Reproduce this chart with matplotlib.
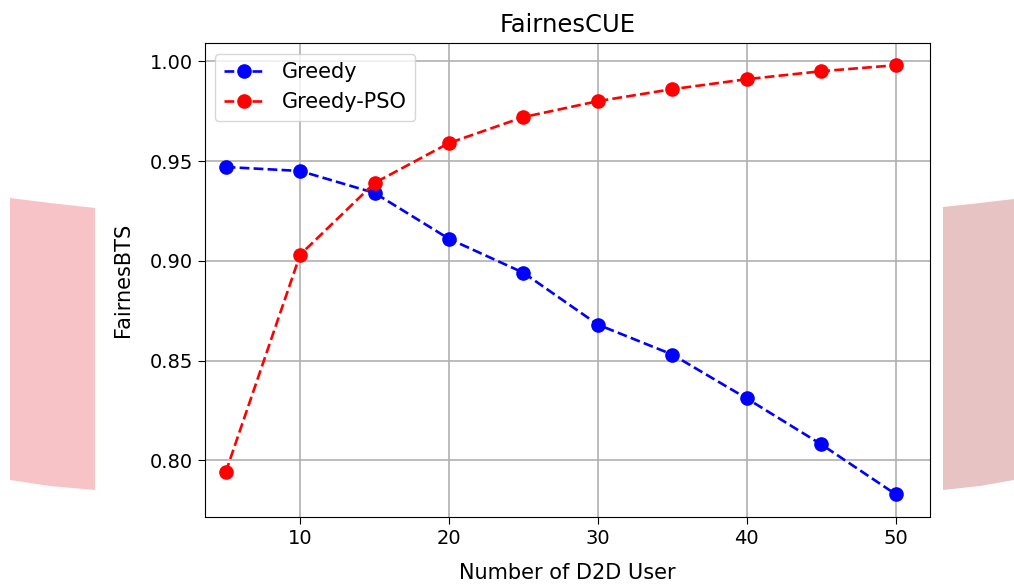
import matplotlib
matplotlib.use("Agg")
import matplotlib.pyplot as plt
from matplotlib.patches import Polygon

users = [5, 10, 15, 20, 25, 30, 35, 40, 45, 50]
greedy = [0.947, 0.945, 0.934, 0.911, 0.894, 0.868, 0.853, 0.831, 0.808, 0.783]
greedy_pso = [0.794, 0.903, 0.939, 0.959, 0.972, 0.980, 0.986, 0.991, 0.995, 0.998]

x_ticks = [10, 20, 30, 40, 50]
y_ticks = [0.80, 0.85, 0.90, 0.95, 1.00]

plt.rcParams["font.size"] = 14
plt.rcParams["xtick.major.size"] = 5
plt.rcParams["ytick.major.size"] = 5

fig = plt.figure(figsize=(10.14, 5.85), dpi=100)

# pink slide decorations on either side (pixel coords, top origin)
bands = [
    ([(10, 198), (50, 203), (95, 208), (95, 490), (50, 486), (10, 480)], "#f7c3c6"),
    ([(943, 207), (980, 203), (1014, 199), (1014, 480), (980, 486), (943, 490)], "#e8c3c4"),
]
for pts, col in bands:
    xy = [(px / 1014, 1 - py / 585) for px, py in pts]
    fig.patches.append(Polygon(xy, closed=True, transform=fig.transFigure,
                               facecolor=col, edgecolor="none"))

ax = fig.add_axes([0.202, 0.116, 0.715, 0.810])
ax.plot(users, greedy, "o--", color="blue", markersize=9.5, linewidth=1.9, label="Greedy")
ax.plot(users, greedy_pso, "o--", color="red", markersize=9.5, linewidth=1.9, label="Greedy-PSO")

ax.set_xlim(3.6, 52.3)
ax.set_ylim(0.7715, 1.009)
ax.set_xticks(x_ticks)
ax.set_yticks(y_ticks)
ax.set_yticklabels([f"{v:.2f}" for v in y_ticks])
ax.grid(True, color="#b0b0b0", linewidth=1.2)

ax.set_title("FairnesCUE", fontsize=17.5, pad=8)
ax.set_xlabel("Number of D2D User", fontsize=15, labelpad=11)
ax.set_ylabel("FairnesBTS", fontsize=15, labelpad=12)
ax.legend(loc="upper left", fontsize=15)

fig.savefig("out.png", dpi=100)
